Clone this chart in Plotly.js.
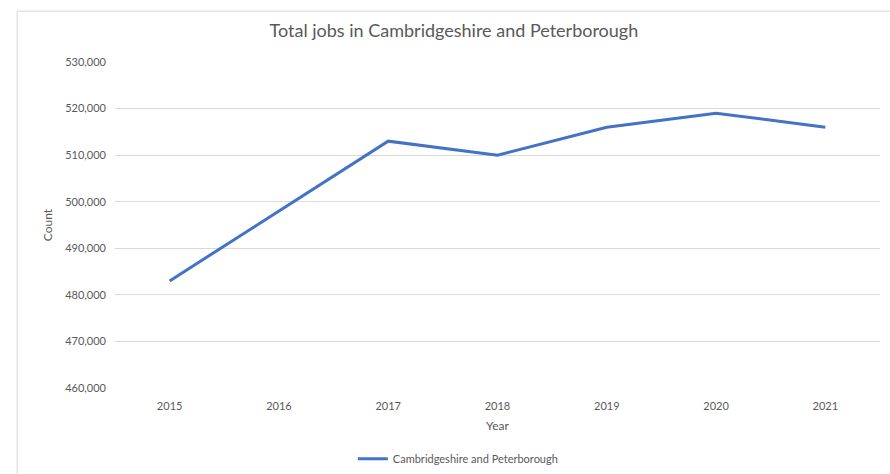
<!DOCTYPE html>
<html>
<head>
<meta charset="utf-8">
<script src="https://cdn.plot.ly/plotly-3.0.1.min.js"></script>
<style>html,body{margin:0;padding:0;background:#fff;}#chart{width:890px;height:474px;}</style>
</head>
<body>
<div id="chart"></div>
<script>
const years = ['2015','2016','2017','2018','2019','2020','2021'];
const jobs = [483000, 498000, 513000, 510000, 516000, 519000, 516000];
const seriesName = 'Cambridgeshire and Peterborough';
const chartTitle = 'Total jobs in Cambridgeshire and Peterborough';

const font = 'Lato, "Open Sans", sans-serif';
const trace = {
  x: years, y: jobs, type: 'scatter', mode: 'lines', name: seriesName,
  line: {color: '#4472C4', width: 3}
};
const layout = {
  width: 890, height: 474,
  margin: {l: 115, r: 10, t: 62, b: 86},
  paper_bgcolor: '#fff', plot_bgcolor: '#fff',
  font: {family: font, color: '#595959', size: 11},
  title: {text: chartTitle, font: {family: font, size: 18, color: '#595959'}, x: 0.51, xanchor: 'center', y: 0.935, yanchor: 'middle'},
  xaxis: {type: 'category', range: [-0.5, 6.5], showgrid: false, zeroline: false, showline: false, ticks: '',
    automargin: false, ticklabelstandoff: 10,
    title: {text: 'Year', font: {size: 12, color: '#595959'}, standoff: 10}},
  yaxis: {range: [460000, 530000], dtick: 10000, tickformat: ',d', gridcolor: '#d9d9d9', gridwidth: 1,
    zeroline: false, showline: false, ticks: '', ticklabelstandoff: 8, automargin: false,
    title: {text: 'Count', font: {size: 12, color: '#595959'}, standoff: 10}},
  showlegend: true,
  legend: {orientation: 'h', xref: 'container', yref: 'container', x: 0.515, xanchor: 'center', y: 0.032, yanchor: 'middle',
    font: {size: 11, color: '#595959'}},
  shapes: [{type: 'rect', xref: 'paper', yref: 'paper', x0: -0.128, x1: 1.2, y0: -0.5, y1: 1.156,
    line: {color: '#d9d9d9', width: 1}, fillcolor: 'rgba(0,0,0,0)', layer: 'below'}]
};
Plotly.newPlot('chart', [trace], layout, {displayModeBar: false, staticPlot: true});
</script>
</body>
</html>
